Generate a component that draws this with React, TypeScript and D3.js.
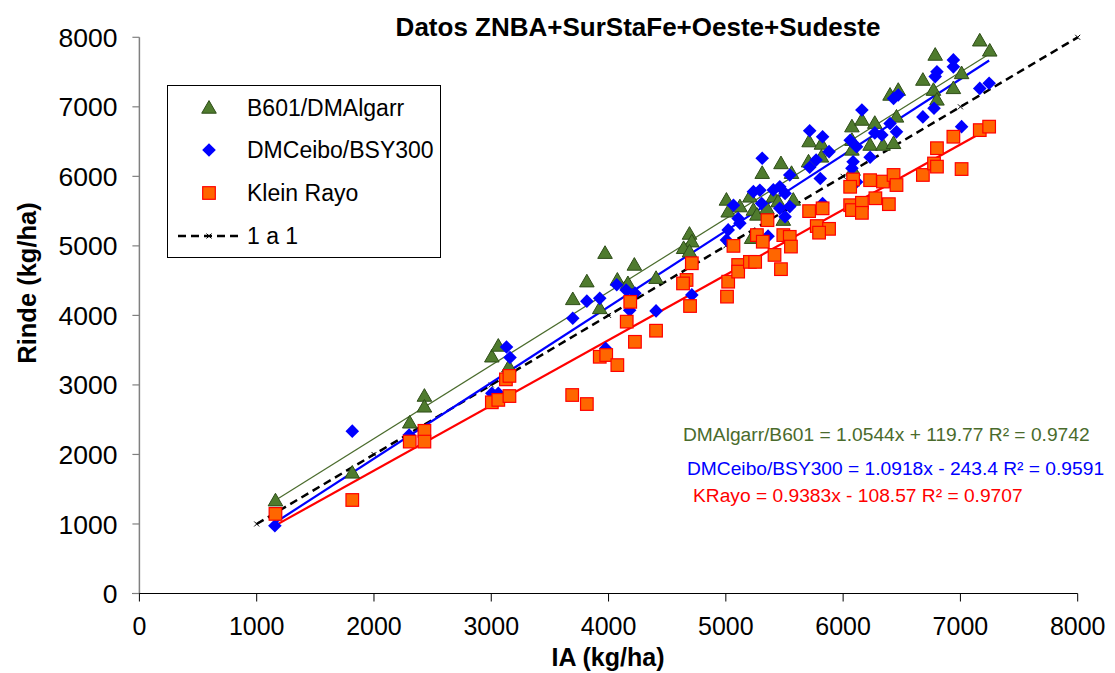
import React from "react";
import * as d3 from "d3";

const xTicks = [0, 1000, 2000, 3000, 4000, 5000, 6000, 7000, 8000];
const yTicks = [0, 1000, 2000, 3000, 4000, 5000, 6000, 7000, 8000];

const seriesNames = ["B601/DMAlgarr", "DMCeibo/BSY300", "Klein Rayo", "1 a 1"];

const b601: [number, number][] = [
  [1160, 1335], [1815, 1735], [2305, 2455], [2430, 2840], [2430, 2685], [3005, 3405], [3060, 3560], [3150, 3260],
  [3695, 4230], [3815, 4485], [3925, 4100], [3970, 4895], [4075, 4510], [4165, 4460], [4220, 4725], [4405, 4535],
  [4690, 5170], [4710, 5060], [4640, 4965], [4690, 4915], [5005, 5660], [5020, 5490], [5120, 5565], [5205, 5705],
  [5235, 5515], [5265, 5445], [5220, 5110], [5310, 6045], [5470, 6185], [5350, 5540], [5405, 5705], [5445, 5635],
  [5490, 5370], [5575, 5660], [5560, 6045], [5705, 6210], [5710, 6500], [5815, 6465], [5815, 6280], [6075, 6520],
  [6075, 6380], [6085, 6090], [6075, 6715], [6160, 6810], [6270, 6765], [6230, 6450], [6340, 6450], [6430, 6475],
  [6400, 7170], [6470, 7240], [6455, 6855], [6680, 7385], [6770, 7240], [6800, 7100], [6785, 7745], [6940, 7265],
  [7010, 7480], [7165, 7950], [7250, 7805],
];

const dmceibo: [number, number][] = [
  [1155, 975], [1815, 2335], [2300, 2280], [3005, 2880], [3060, 2880], [3130, 3545], [3160, 3395], [3695, 3960],
  [3815, 4205], [3925, 4245], [3975, 3525], [4070, 4440], [4150, 4365], [4225, 4320], [4180, 4075], [4405, 4065],
  [4710, 4295], [5005, 5085], [5020, 5230], [5065, 5585], [5105, 5395], [5120, 5325], [5235, 5780], [5290, 5800],
  [5310, 6260], [5360, 5140], [5305, 5610], [5405, 5805], [5460, 5850], [5505, 5755], [5545, 6020], [5460, 5540],
  [5545, 5565], [5505, 5420], [5715, 6655], [5825, 6570], [5880, 6355], [5770, 6235], [5715, 6130], [5805, 5970],
  [5825, 5610], [6060, 6520], [6115, 6425], [6085, 6210], [6075, 6115], [6115, 5920], [6160, 6955], [6230, 6275],
  [6270, 6625], [6330, 6595], [6400, 6760], [6455, 6640], [6430, 7120], [6470, 7170], [6680, 6855], [6775, 6980],
  [6800, 7505], [6785, 7435], [6940, 7675], [6940, 7575], [7010, 6715], [7165, 7265], [7245, 7340],
];

const kleinRayo: [number, number][] = [
  [1160, 1145], [1815, 1345], [2305, 2185], [2430, 2340], [2430, 2185], [3005, 2750], [3060, 2785], [3155, 2840],
  [3125, 3080], [3155, 3130], [3690, 2855], [3815, 2725], [3925, 3405], [3980, 3430], [4075, 3285], [4155, 3910],
  [4185, 4195], [4225, 3620], [4405, 3780], [4710, 4750], [4665, 4510], [4635, 4460], [4695, 4135], [5010, 4270],
  [5020, 4485], [5065, 5000], [5105, 4725], [5105, 4630], [5205, 4770], [5250, 4770], [5265, 5155], [5315, 5060],
  [5355, 5370], [5415, 4870], [5470, 4665], [5490, 5155], [5545, 5130], [5555, 4990], [5710, 5500], [5825, 5540],
  [5775, 5285], [5880, 5245], [5795, 5190], [6060, 5585], [6075, 5515], [6160, 5620], [6160, 5475], [6275, 5685],
  [6390, 5600], [6085, 5955], [6060, 5850], [6230, 5945], [6340, 5925], [6430, 6020], [6455, 5875], [6680, 6020],
  [6775, 6185], [6800, 6140], [6800, 6405], [7010, 6105], [6940, 6570], [7165, 6665], [7245, 6715],
];

const oneToOne = [1000, 2000, 3000, 4000, 5000, 6000, 7000, 8000];

// trendline coefficients [slope, intercept]
const trendB601 = [1.0544, 119.77];
const trendCeibo = [1.0918, -243.4];
const trendRayo = [0.9383, -108.57];

const equations = [
  "DMAlgarr/B601 = 1.0544x + 119.77 R² = 0.9742",
  "DMCeibo/BSY300 = 1.0918x - 243.4 R² = 0.9591",
  "KRayo = 0.9383x - 108.57 R² = 0.9707",
];

const GREEN_FILL = "#4f7b2e";
const GREEN_STROKE = "#2e4d18";
const GREEN_LINE = "#4a6b2c";
const BLUE = "#0000ff";
const ORANGE = "#ff6600";
const RED = "#ff0000";
const FONT = "'Liberation Sans', Arial, sans-serif";

const x = d3.scaleLinear().domain([0, 8000]).range([139.4, 1077.7]);
const y = d3.scaleLinear().domain([0, 8000]).range([593.5, 37.3]);

const tri = d3.symbol().type(d3.symbolTriangle).size(92);

function Triangle({ cx, cy }: { cx: number; cy: number }) {
  return (
    <path
      d={tri() as string}
      transform={`translate(${cx},${cy + 1})`}
      fill={GREEN_FILL}
      stroke={GREEN_STROKE}
      strokeWidth={1}
    />
  );
}
function Diamond({ cx, cy }: { cx: number; cy: number }) {
  const r = 6.8;
  return <path d={`M${cx},${cy - r}L${cx + r},${cy}L${cx},${cy + r}L${cx - r},${cy}Z`} fill={BLUE} />;
}
function Square({ cx, cy }: { cx: number; cy: number }) {
  const h = 6.3;
  return <rect x={cx - h} y={cy - h} width={2 * h} height={2 * h} fill={ORANGE} stroke={RED} strokeWidth={1.2} />;
}
function XMark({ cx, cy }: { cx: number; cy: number }) {
  const s = 2.5;
  return (
    <path d={`M${cx - s},${cy - s}L${cx + s},${cy + s}M${cx - s},${cy + s}L${cx + s},${cy - s}`} stroke="#000" strokeWidth={1} />
  );
}

function trendLine(data: [number, number][], coef: number[]) {
  const xs = data.map((d) => d[0]);
  const x0 = d3.min(xs) as number;
  const x1 = d3.max(xs) as number;
  const line = d3.line<number>().x((v) => x(v)).y((v) => y(coef[0] * v + coef[1]));
  return line([x0, x1]) as string;
}

export default function App() {
  const oneLine = d3.line<number>().x((v) => x(v)).y((v) => y(v))(oneToOne) as string;
  return (
    <svg
      width={1115}
      height={673}
      style={{ position: "absolute", left: 0, top: 0, background: "#fff" }}
      fontFamily={FONT}
    >
      <rect x={0} y={0} width={1115} height={673} fill="#fff" />
      {/* title */}
      <text x={638} y={36} textAnchor="middle" fontSize={26} fontWeight="bold">
        Datos ZNBA+SurStaFe+Oeste+Sudeste
      </text>

      {/* axes */}
      <line x1={x(0)} x2={x(0)} y1={y(8000)} y2={y(0)} stroke="#808080" strokeWidth={1.5} />
      <line x1={x(0) - 7} x2={x(8000)} y1={y(0)} y2={y(0)} stroke="#000" strokeWidth={1} />
      {yTicks.map((t) => (
        <g key={"y" + t}>
          <line x1={x(0) - 7} x2={x(0)} y1={y(t)} y2={y(t)} stroke="#808080" strokeWidth={1.2} />
          <text x={x(0) - 22} y={y(t)} dy="0.36em" textAnchor="end" fontSize={26.5}>
            {t}
          </text>
        </g>
      ))}
      {xTicks.map((t) => (
        <g key={"x" + t}>
          <line x1={x(t)} x2={x(t)} y1={y(0)} y2={y(0) + 8} stroke="#000" strokeWidth={1} />
          <text x={x(t)} y={y(0) + 41} textAnchor="middle" fontSize={25}>
            {t}
          </text>
        </g>
      ))}
      <text x={608} y={666} textAnchor="middle" fontSize={25} fontWeight="bold">
        IA (kg/ha)
      </text>
      <text transform="translate(36,283) rotate(-90)" textAnchor="middle" fontSize={25.5} fontWeight="bold">
        Rinde (kg/ha)
      </text>

      {/* 1:1 line */}
      <path d={oneLine} fill="none" stroke="#000" strokeWidth={2.5} strokeDasharray="8,5" />
      {oneToOne.map((v) => (
        <XMark key={"o" + v} cx={x(v)} cy={y(v)} />
      ))}

      {/* trendlines */}
      <path d={trendLine(b601, trendB601)} fill="none" stroke={GREEN_LINE} strokeWidth={1.2} />
      <path d={trendLine(dmceibo, trendCeibo)} fill="none" stroke={BLUE} strokeWidth={2.2} />
      <path d={trendLine(kleinRayo, trendRayo)} fill="none" stroke={RED} strokeWidth={2.2} />

      {/* markers */}
      {b601.map((d, i) => (
        <Triangle key={"g" + i} cx={x(d[0])} cy={y(d[1])} />
      ))}
      {dmceibo.map((d, i) => (
        <Diamond key={"b" + i} cx={x(d[0])} cy={y(d[1])} />
      ))}
      {kleinRayo.map((d, i) => (
        <Square key={"r" + i} cx={x(d[0])} cy={y(d[1])} />
      ))}

      {/* equations */}
      <text x={683} y={441} fontSize={19.2} fill={GREEN_LINE}>
        {equations[0]}
      </text>
      <text x={687} y={475} fontSize={19.2} fill={BLUE}>
        {equations[1]}
      </text>
      <text x={693} y={502} fontSize={19.2} fill={RED}>
        {equations[2]}
      </text>

      {/* legend */}
      <rect x={167.5} y={85.5} width={273} height={172} fill="#fff" stroke="#000" strokeWidth={1} />
      <Triangle cx={209} cy={108} />
      <text x={247} y={108} dy="0.36em" fontSize={23}>
        {seriesNames[0]}
      </text>
      <Diamond cx={209} cy={150} />
      <text x={247} y={150} dy="0.36em" fontSize={23}>
        {seriesNames[1]}
      </text>
      <Square cx={209} cy={193} />
      <text x={247} y={193} dy="0.36em" fontSize={23}>
        {seriesNames[2]}
      </text>
      <line x1={178} x2={240} y1={236} y2={236} stroke="#000" strokeWidth={2.5} strokeDasharray="8,5" />
      <XMark cx={209} cy={236} />
      <text x={247} y={236} dy="0.36em" fontSize={23}>
        {seriesNames[3]}
      </text>
    </svg>
  );
}
